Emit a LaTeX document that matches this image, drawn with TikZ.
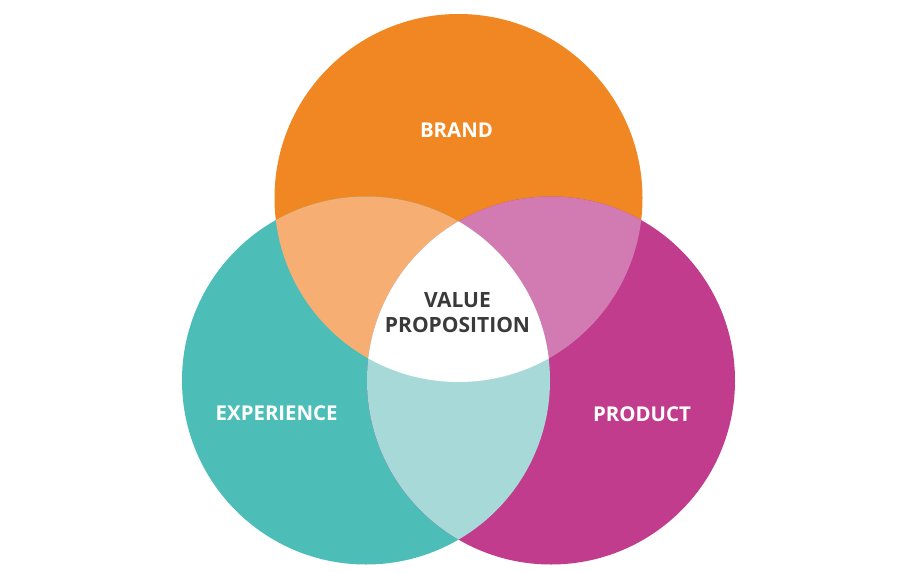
\documentclass[tikz,border=0pt]{standalone}
\usepackage{fontspec}
\setmainfont{Open Sans}
\definecolor{cOrange}{HTML}{F08723}
\definecolor{cTeal}{HTML}{4CBDB7}
\definecolor{cMagenta}{HTML}{C23C8E}
\definecolor{cLightOrange}{HTML}{F6AE72}
\definecolor{cPink}{HTML}{D27BB2}
\definecolor{cLightTeal}{HTML}{A7D9D8}
\definecolor{cText}{HTML}{3A3A3A}
\tikzset{
  lbl/.style={font=\fontsize{20.4}{24}\selectfont\bfseries, text=white, inner sep=0pt, anchor=center},
  vlbl/.style={font=\fontsize{21}{24.7}\selectfont\bfseries, text=cText, inner sep=0pt, align=center, anchor=center}
}
\begin{document}
\begin{tikzpicture}[x=1pt,y=-1pt]
\useasboundingbox (0,0) rectangle (916,573);
\fill[white] (0,0) rectangle (916,573);
\coordinate (cB) at (458.5,198);
\coordinate (cE) at (366,380.5);
\coordinate (cP) at (551,380.5);
\def\R{184}
\fill[cOrange] (cB) circle[radius=\R];
\fill[cTeal] (cE) circle[radius=\R];
\fill[cMagenta] (cP) circle[radius=\R];
\begin{scope}
  \clip (cB) circle[radius=\R];
  \fill[cLightOrange] (cE) circle[radius=\R];
  \fill[cPink] (cP) circle[radius=\R];
\end{scope}
\begin{scope}
  \clip (cE) circle[radius=\R];
  \fill[cLightTeal] (cP) circle[radius=\R];
\end{scope}
\begin{scope}
  \clip (cB) circle[radius=\R];
  \clip (cE) circle[radius=\R];
  \fill[white] (cP) circle[radius=\R];
\end{scope}
\node[lbl] (brand) at (456.5,130.3) {BRAND};
\node[lbl] (exp) at (276.7,413.7) {EXPERIENCE};
\node[lbl] (prod) at (642,413.7) {PRODUCT};
\node[vlbl] (val) at (457.5,312.6) {VALUE\\PROPOSITION};
\end{tikzpicture}
\end{document}
